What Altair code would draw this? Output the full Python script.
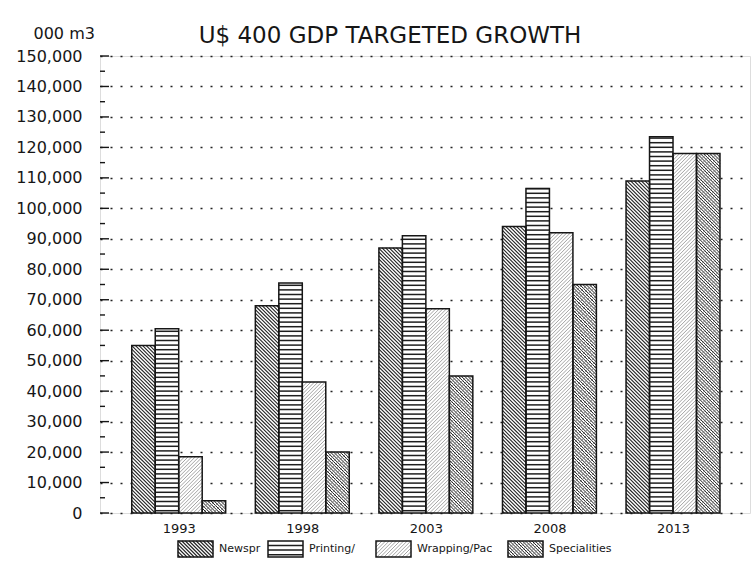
import altair as alt
import pandas as pd

# ---- data -------------------------------------------------------------
years = ["1993", "1998", "2003", "2008", "2013"]
series = ["Newspr", "Printing/", "Wrapping/Pac", "Specialities"]
newspr = [55000, 68000, 87000, 94000, 109000]
printing = [60500, 75500, 91000, 106500, 123500]
wrapping = [18500, 43000, 67000, 92000, 118000]
specialities = [4000, 20000, 45000, 75000, 118000]
y_ticks_major = list(range(0, 150001, 10000))
y_ticks_minor = list(range(5000, 150000, 10000))

values_by_series = [newspr, printing, wrapping, specialities]

# ---- layout -----------------------------------------------------------
W, H = 650, 457
X_MIN, X_MAX = -0.637, 4.623
Y_MAX = 150000
BAR_W = 0.19
PX_X = W / (X_MAX - X_MIN)
PY = H / Y_MAX
INK = "#161616"
FONT = "DejaVu Sans"

# hatch styles: (direction, spacing px, colour, line width)
hatch_styles = {
    "Newspr": [("back", 3.6, "#222222", 1.1)],
    "Printing/": [("horiz", 4.6, "#1e1e1e", 1.5)],
    "Wrapping/Pac": [("fwd", 3.6, "#9a9a9a", 0.9)],
    "Specialities": [("back", 3.2, "#1e1e1e", 1.0), ("fwd", 5.0, "#777777", 0.8)],
}


def hatch(x0, x1, y0, y1, direction, spacing):
    """Clip a family of parallel lines to a rectangle given in data units."""
    w = (x1 - x0) * PX_X
    h = (y1 - y0) * PY
    segs = []
    if direction == "horiz":
        v = spacing / 2
        while v < h:
            segs.append((0, v, w, v))
            v += spacing
    elif direction == "back":
        c = spacing / 2
        while c < w + h:
            ua, ub = max(0.0, c - h), min(w, c)
            if ub > ua:
                segs.append((ua, c - ua, ub, c - ub))
            c += spacing
    else:
        c = -w + spacing / 2
        while c < h:
            ua, ub = max(0.0, -c), min(w, h - c)
            if ub > ua:
                segs.append((ua, c + ua, ub, c + ub))
            c += spacing
    return [
        {"x": x0 + a / PX_X, "y": y0 + b / PY, "x2": x0 + c_ / PX_X, "y2": y0 + d / PY}
        for a, b, c_, d in segs
    ]


# ---- bar rectangles ---------------------------------------------------
rects = []
for i, yr in enumerate(years):
    for j, s in enumerate(series):
        x0 = i + (j - 2) * BAR_W
        rects.append({"series": s, "year": yr, "x": x0, "x2": x0 + BAR_W,
                      "y": 0, "y2": values_by_series[j][i]})


# legend boxes below the axis (pixel layout converted to data units)
def px_to_x(px):
    return X_MIN + px / PX_X


def px_to_y(py):
    return (H - py) / PY


legend_left_px = [78, 168, 276, 408]
legend_box_w = 35
legend_top, legend_bottom = 541 - 56, 557 - 56
legend_rects, legend_text = [], []
for s, lx in zip(series, legend_left_px):
    legend_rects.append({"series": s, "x": px_to_x(lx), "x2": px_to_x(lx + legend_box_w),
                         "y": px_to_y(legend_bottom), "y2": px_to_y(legend_top)})
    legend_text.append({"label": s, "x": px_to_x(lx + legend_box_w + 6),
                        "y": px_to_y((legend_top + legend_bottom) / 2)})

all_rects = rects + legend_rects
rect_df = pd.DataFrame(all_rects)

# ---- shared scales / axes --------------------------------------------
x_scale = alt.Scale(domain=[X_MIN, X_MAX], nice=False, zero=False)
y_scale = alt.Scale(domain=[0, Y_MAX], nice=False)
label_expr = "[" + ",".join(f"'{y}'" for y in years) + "][datum.value]"
x_axis = alt.Axis(values=list(range(len(years))), labelExpr=label_expr, ticks=False,
                  domain=False, grid=False, title=None, labelFont=FONT, labelFontSize=13,
                  labelColor=INK, labelPadding=9)
y_axis = alt.Axis(values=y_ticks_major, format=",.0f", ticks=False, domain=False, grid=True,
                  gridDash=[2, 8], gridColor="#222222", gridWidth=1.4,
                  labelFont=FONT, labelFontSize=16, labelColor=INK, labelPadding=18,
                  title="000 m3", titleAngle=0, titleX=-67, titleY=-18, titleAlign="left",
                  titleBaseline="alphabetic", titleFont=FONT, titleFontSize=16,
                  titleFontWeight="normal", titleColor=INK)


def xy_enc():
    return dict(
        x=alt.X("x:Q", scale=x_scale, axis=x_axis),
        x2="x2:Q",
        y=alt.Y("y:Q", scale=y_scale, axis=y_axis),
        y2="y2:Q",
    )


fill_layer = alt.Chart(rect_df).mark_rect(fill="white", stroke=None).encode(**xy_enc())

hatch_layers = []
for s in series:
    for direction, spacing, color, lw in hatch_styles[s]:
        segs = []
        for r in all_rects:
            if r["series"] == s:
                segs += hatch(r["x"], r["x2"], r["y"], r["y2"], direction, spacing)
        hatch_layers.append(
            alt.Chart(pd.DataFrame(segs)).mark_rule(color=color, strokeWidth=lw).encode(**xy_enc())
        )

outline_layer = alt.Chart(rect_df).mark_rect(
    fillOpacity=0, stroke=INK, strokeWidth=1.5
).encode(**xy_enc())

# inward axis ticks
major_df = pd.DataFrame({"y": y_ticks_major})
minor_df = pd.DataFrame({"y": y_ticks_minor})
major_ticks = alt.Chart(major_df).mark_rule(color=INK, strokeWidth=1.4).encode(
    y=alt.Y("y:Q", scale=y_scale, axis=y_axis), x=alt.value(0), x2=alt.value(9))
minor_ticks = alt.Chart(minor_df).mark_rule(color=INK, strokeWidth=1.4).encode(
    y=alt.Y("y:Q", scale=y_scale, axis=y_axis), x=alt.value(0), x2=alt.value(5))

legend_labels = alt.Chart(pd.DataFrame(legend_text)).mark_text(
    align="left", baseline="middle", font=FONT, fontSize=11, color=INK
).encode(
    x=alt.X("x:Q", scale=x_scale, axis=x_axis),
    y=alt.Y("y:Q", scale=y_scale, axis=y_axis),
    text="label:N",
)

chart = alt.layer(
    fill_layer, *hatch_layers, outline_layer, major_ticks, minor_ticks, legend_labels
).properties(
    width=W,
    height=H,
    padding={"left": 100, "top": 56, "right": 5, "bottom": 61},
    autosize=alt.AutoSizeParams(type="none"),
    title=alt.TitleParams(
        text="U$ 400 GDP TARGETED GROWTH", font=FONT, fontSize=23, fontWeight="normal",
        color=INK, anchor="middle", frame="group", dx=-35, dy=33, offset=10,
    ),
).configure_view(
    stroke=INK, strokeWidth=1.5
).configure(background="white")

chart.save("out.html", embed_options={"renderer": "svg", "actions": False})
